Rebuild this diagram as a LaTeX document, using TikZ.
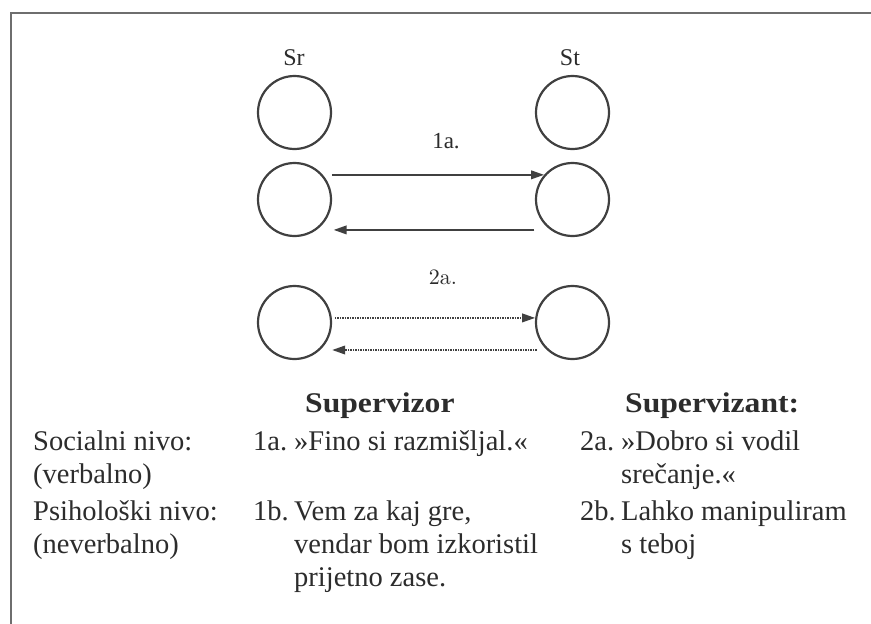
\documentclass[tikz,border=0pt]{standalone}
\usepackage{fontspec}
\setmainfont{Liberation Serif}
\newfontfamily\lmfont{lmroman10-regular}[Extension=.otf]
\usetikzlibrary{arrows.meta}
\definecolor{ink}{HTML}{2C2C2C}
\definecolor{lineink}{HTML}{404040}
\definecolor{framecol}{HTML}{6E6E6E}
\begin{document}
\begin{tikzpicture}[x=1pt,y=-1pt,
  circ/.style={circle, draw=lineink, line width=2.2pt, minimum size=73pt, inner sep=0pt},
  txt/.style={anchor=base west, inner sep=0pt, text=ink, font=\fontsize{28.5}{33}\selectfont},
  head/.style={anchor=base west, inner sep=0pt, text=ink, font=\fontsize{28.5}{33}\selectfont\bfseries},
  lab/.style={anchor=base, inner sep=0pt, text=ink, font=\fontsize{24}{28}\selectfont},
  arr/.style={draw=lineink, line width=2pt, -{Triangle[length=13pt,width=8.5pt]}},
  dotarr/.style={arr, dash pattern=on 1.6pt off 0.9pt}]
\useasboundingbox (0,0) rectangle (871,624);
\fill[white] (0,0) rectangle (871,624);
\draw[framecol, line width=2.5pt] (11,640) -- (11,13) -- (890,13);
% circles
\node[circ] (sr1) at (294.5,112.5) {};
\node[circ] (st1) at (572.5,112.5) {};
\node[circ] (sr2) at (294.5,199.5) {};
\node[circ] (st2) at (572.5,199.5) {};
\node[circ] (sr3) at (294.5,322.5) {};
\node[circ] (st3) at (572.5,322.5) {};
% labels
\node[lab] (lsr) at (294,65) {Sr};
\node[lab] (lst) at (570,65) {St};
\node[lab, font=\fontsize{23}{26}\selectfont] (l1a) at (446,148) {1a.};
\node[lab, font=\fontsize{22}{26}\selectfont\lmfont] (l2a) at (443,284) {2a.};
% arrows
\draw[arr] ([xshift=9pt]sr2.41) -- (st2.139);
\draw[arr] ([xshift=-16pt]st2.234) -- ([xshift=17pt]sr2.-54);
\draw[dotarr] ([xshift=3pt]sr3.7) -- (st3.173);
\draw[dotarr] ([xshift=-10pt]st3.227) -- ([xshift=12pt]sr3.-47);
% table
\node[head] (h1) at (305,412) {\scalebox{1.11}[1]{Supervizor}};
\node[head] (h2) at (625,412) {\scalebox{1.11}[1]{Supervizant:}};
\node[txt] (r1) at (33,450) {Socialni nivo:};
\node[txt] (r1b) at (33,483) {(verbalno)};
\node[txt] (n1a) at (253,450) {1a.};
\node[txt] (t1a) at (294,450) {»Fino si razmišljal.«};
\node[txt] (n2a) at (580,450) {2a.};
\node[txt] (t2a) at (621,450) {»Dobro si vodil};
\node[txt] (t2a2) at (621,483) {srečanje.«};
\node[txt] (r2) at (33,520) {Psihološki nivo:};
\node[txt] (r2b) at (33,553) {(neverbalno)};
\node[txt] (n1b) at (253,520) {1b.};
\node[txt] (t1b) at (294,520) {Vem za kaj gre,};
\node[txt] (t1b2) at (294,553) {vendar bom izkoristil};
\node[txt] (t1b3) at (294,586) {prijetno zase.};
\node[txt] (n2b) at (580,520) {2b.};
\node[txt] (t2b) at (621,520) {Lahko manipuliram};
\node[txt] (t2b2) at (621,553) {s teboj};
\end{tikzpicture}
\end{document}
